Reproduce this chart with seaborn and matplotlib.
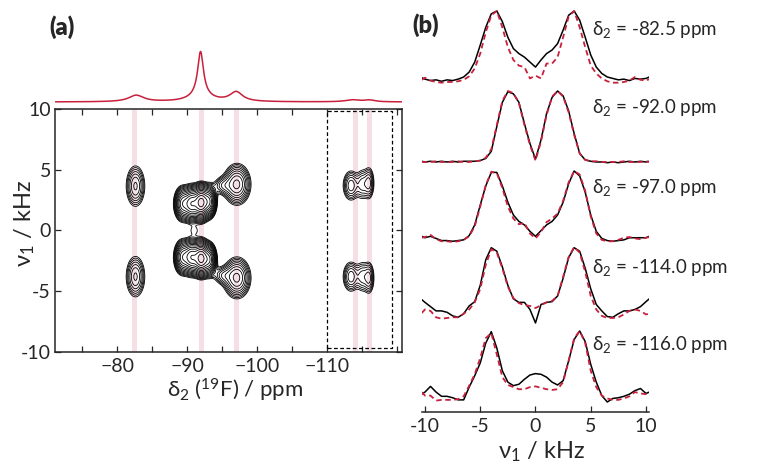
import numpy as np
import matplotlib
matplotlib.use("Agg")
import matplotlib.pyplot as plt
import seaborn as sns

# ================= Data ================= #
# top 1D 19F trace: line positions (ppm), heights, half widths (ppm)
trace_ppm = [-82.7, -91.9, -91.9, -97.0, -113.6, -116.0]
trace_height = [0.13, 0.88, 0.12, 0.19, 0.04, 0.035]
trace_hwhm = [1.3, 0.5, 1.8, 1.1, 1.2, 0.9]

# 2D map: cross peaks (delta2 ppm, nu1 kHz), widths and amplitudes
peak_ppm = [-82.6, -82.6,
            -89.3, -90.6, -92.0, -93.2, -89.3, -90.6, -92.0, -93.2, -91.0,
            -97.1, -97.1, -95.0, -95.0,
            -113.4, -115.0, -116.0, -113.4, -115.0, -116.0]
peak_khz = [3.65, -3.8,
            2.2, 2.2, 2.3, 2.4, -2.2, -2.2, -2.3, -2.4, 0.0,
            3.8, -3.9, 3.7, -3.7,
            3.7, 3.8, 3.9, -3.8, -3.8, -3.9]
peak_wppm = [0.8, 0.8,
             0.6, 0.6, 0.6, 0.5, 0.6, 0.6, 0.6, 0.5, 0.6,
             1.05, 1.05, 0.8, 0.8,
             0.7, 0.5, 0.45, 0.7, 0.5, 0.45]
peak_wkhz = [1.0, 1.0,
             0.7, 0.7, 0.7, 0.65, 0.7, 0.7, 0.7, 0.65, 0.3,
             0.9, 0.9, 0.45, 0.45,
             0.75, 0.8, 0.8, 0.75, 0.8, 0.8]
peak_amp = [1.0, 1.0,
            2.5, 4.0, 6.0, 3.0, 2.5, 4.0, 6.0, 3.0, 0.25,
            1.6, 1.6, 0.6, 0.6,
            0.9, 0.6, 0.8, 0.9, 0.6, 0.8]

# slices through the 2D map (b)
slice_ppm = [-82.5, -92.0, -97.0, -114.0, -116.0]
nu_khz = np.r_[-10.3, np.arange(-10, 10.01, 0.5), 10.3]
exp_slices = [
    [0.06, 0.04, 0.02, 0.03, 0.01, 0.03, 0.02, 0.04, 0.07, 0.14, 0.28, 0.52, 0.77, 0.96, 1.0,
     0.85, 0.63, 0.47, 0.40, 0.35, 0.28, 0.21, 0.31, 0.40, 0.45, 0.54, 0.73, 0.94, 1.0, 0.87,
     0.63, 0.38, 0.21, 0.12, 0.07, 0.05, 0.03, 0.04, 0.02, 0.05, 0.04, 0.05, 0.07],
    [0.01, 0.00, 0.01, 0.00, 0.01, 0.00, 0.01, 0.00, 0.01, 0.01, 0.01, 0.02, 0.05, 0.15, 0.50,
     0.84, 0.99, 0.96, 0.84, 0.54, 0.26, 0.04, 0.31, 0.68, 0.91, 1.0, 0.93, 0.72, 0.40, 0.12,
     0.03, 0.01, 0.00, 0.00, -0.01, 0.00, -0.01, 0.00, 0.01, 0.00, 0.01, 0.00, 0.01],
    [0.08, 0.06, 0.08, 0.05, 0.02, 0.02, 0.01, 0.02, 0.03, 0.09, 0.24, 0.52, 0.79, 0.98, 0.98,
     0.79, 0.56, 0.38, 0.29, 0.24, 0.15, 0.08, 0.16, 0.24, 0.29, 0.38, 0.56, 0.82, 1.0, 0.93,
     0.70, 0.38, 0.15, 0.05, 0.02, 0.01, 0.02, 0.03, 0.06, 0.06, 0.06, 0.06, 0.08],
    [0.26, 0.22, 0.16, 0.10, 0.10, 0.08, 0.03, 0.01, 0.06, 0.17, 0.23, 0.46, 0.82, 0.99, 0.94,
     0.72, 0.46, 0.27, 0.22, 0.22, 0.12, -0.07, 0.19, 0.22, 0.23, 0.31, 0.56, 0.85, 0.99, 0.94,
     0.70, 0.41, 0.19, 0.10, 0.02, 0.01, 0.06, 0.10, 0.10, 0.12, 0.16, 0.23, 0.27],
    [0.11, 0.14, 0.22, 0.14, 0.08, 0.08, 0.06, 0.03, 0.03, 0.21, 0.37, 0.55, 0.83, 0.99, 0.76,
     0.44, 0.28, 0.23, 0.25, 0.32, 0.38, 0.40, 0.39, 0.35, 0.28, 0.24, 0.30, 0.58, 0.88, 1.0,
     0.85, 0.53, 0.28, 0.09, 0.00, 0.05, 0.06, 0.08, 0.11, 0.16, 0.19, 0.12, 0.14],
]
sim_slices = [
    [0.03, 0.06, 0.02, 0.00, -0.01, 0.00, 0.00, 0.01, 0.03, 0.08, 0.19, 0.40, 0.70, 0.94, 1.0,
     0.77, 0.49, 0.31, 0.23, 0.21, 0.05, 0.09, 0.05, 0.26, 0.26, 0.35, 0.63, 0.92, 1.0, 0.77,
     0.49, 0.23, 0.12, 0.05, 0.01, -0.01, -0.01, 0.00, 0.02, 0.07, 0.03, 0.02, 0.04],
    [0.00, 0.00, 0.00, 0.01, 0.00, 0.00, 0.00, 0.01, 0.00, 0.00, 0.01, 0.02, 0.06, 0.18, 0.52,
     0.86, 1.0, 0.97, 0.83, 0.52, 0.24, 0.02, 0.29, 0.66, 0.92, 1.0, 0.92, 0.70, 0.38, 0.12,
     0.03, 0.01, 0.01, 0.00, 0.00, 0.00, 0.00, 0.01, 0.00, 0.00, 0.00, 0.01, 0.00],
    [0.06, 0.07, 0.10, 0.04, 0.01, 0.01, 0.00, 0.01, 0.03, 0.08, 0.22, 0.50, 0.80, 0.99, 0.97,
     0.76, 0.50, 0.33, 0.25, 0.27, 0.12, 0.05, 0.14, 0.28, 0.33, 0.40, 0.58, 0.84, 1.0, 0.95,
     0.72, 0.36, 0.12, 0.03, 0.01, 0.01, 0.03, 0.06, 0.07, 0.05, 0.04, 0.06, 0.07],
    [0.07, 0.12, 0.10, 0.01, -0.01, 0.00, 0.01, 0.01, 0.06, 0.12, 0.22, 0.41, 0.75, 0.97, 0.92,
     0.70, 0.44, 0.28, 0.21, 0.18, 0.17, 0.14, 0.18, 0.22, 0.24, 0.31, 0.58, 0.86, 1.0, 0.92,
     0.65, 0.31, 0.12, 0.03, 0.00, 0.00, 0.01, 0.05, 0.10, 0.12, 0.10, 0.05, 0.06],
    [0.14, 0.09, 0.09, 0.02, 0.03, 0.03, 0.03, 0.04, 0.08, 0.23, 0.39, 0.62, 0.90, 0.97, 0.67,
     0.35, 0.24, 0.21, 0.18, 0.18, 0.21, 0.22, 0.20, 0.18, 0.17, 0.18, 0.28, 0.58, 0.90, 1.0,
     0.83, 0.44, 0.21, 0.09, 0.05, 0.03, 0.03, 0.05, 0.08, 0.14, 0.12, 0.11, 0.10],
]

# dashed region (ppm, kHz)
box_ppm = [-110.0, -119.3]
box_khz = [-9.7, 9.8]

# ================= Style ================= #
sns.set_style("ticks")
plt.rcParams['font.family'] = ['Lato', 'DejaVu Sans']
plt.rcParams['mathtext.fontset'] = 'custom'
plt.rcParams['mathtext.rm'] = 'Lato'
plt.rcParams['mathtext.it'] = 'Lato:italic'
plt.rcParams['axes.unicode_minus'] = False
plt.rcParams['xtick.direction'] = 'in'
plt.rcParams['ytick.direction'] = 'in'

red = '#c8203c'
pink = '#f6dfe4'
fs_tick = 14
fs_lab = 16

fig = plt.figure(figsize=(7.58, 4.70), dpi=100)
ax2d = fig.add_axes([0.0726, 0.2511, 0.4578, 0.517])
axtop = fig.add_axes([0.0726, 0.7702, 0.4578, 0.1447])
axb = fig.add_axes([0.5563, 0.1234, 0.3003, 0.866])

xlim_ppm = (-71.1, -120.7)

# ================= (a) top trace ================= #
ppm_grid = np.linspace(xlim_ppm[0], xlim_ppm[1], 800)
trace = np.zeros_like(ppm_grid)
for p, h, w in zip(trace_ppm, trace_height, trace_hwhm):
    trace += h * w**2 / ((ppm_grid - p)**2 + w**2)
sns.lineplot(x=ppm_grid, y=trace, ax=axtop, color=red, lw=1.1, sort=False, estimator=None)
axtop.set_xlim(*xlim_ppm)
axtop.set_ylim(-0.12, 1.24)
axtop.axis('off')

# ================= (a) 2D contour map ================= #
khz_grid = np.linspace(-10, 10, 500)
X, Y = np.meshgrid(ppm_grid, khz_grid)
Z = np.zeros_like(X)
for p, k, wp, wk, a in zip(peak_ppm, peak_khz, peak_wppm, peak_wkhz, peak_amp):
    Z += a * np.exp(-0.5 * ((X - p) / wp)**2 - 0.5 * ((Y - k) / wk)**2)
levels = 0.25 * 1.25**np.arange(0, 22)
for p in slice_ppm:
    ax2d.axvspan(p - 0.35, p + 0.35, color=pink, lw=0, zorder=0)
ax2d.contour(X, Y, Z, levels=levels, colors='k', linewidths=0.6, zorder=2)
ax2d.plot([box_ppm[0], box_ppm[0], box_ppm[1], box_ppm[1], box_ppm[0]],
          [box_khz[0], box_khz[1], box_khz[1], box_khz[0], box_khz[0]],
          color='k', ls=(0, (3, 2)), lw=0.9, zorder=3)
ax2d.set_xlim(*xlim_ppm)
ax2d.set_ylim(-10, 10)
ax2d.set_xticks([-80, -90, -100, -110])
ax2d.set_xticklabels(['\u221280', '\u221290', '\u2212100', '\u2212110'], fontsize=fs_tick)
ax2d.set_xticks(np.arange(-75, -121, -5), minor=True)
ax2d.set_yticks([-10, -5, 0, 5, 10])
ax2d.set_yticklabels(['-10', '-5', '0', '5', '10'], fontsize=fs_tick)
ax2d.tick_params(which='both', top=True, right=True, length=4, width=0.9, pad=3)
ax2d.tick_params(axis='x', pad=4)
for s in ax2d.spines.values():
    s.set_linewidth(1.1)

fig.text(25 / 758, 1 - 223 / 470, 'ν$_1$ / kHz', rotation=90, ha='center', va='center',
         fontsize=fs_lab + 1)
fig.text(235 / 758, 1 - 390 / 470, 'δ$_2$ ($^{19}$F) / ppm', ha='center', va='center',
         fontsize=fs_lab)

# ================= (b) slices ================= #
slice_offset = [330, 250, 170, 94, 10]
slice_scale = 71
label_y = [382, 304, 224, 144, 67]
for k in range(len(slice_ppm)):
    off = slice_offset[k]
    sns.lineplot(x=nu_khz, y=np.array(exp_slices[k]) * slice_scale + off, ax=axb,
                 color='k', lw=1.1, sort=False, estimator=None, zorder=2)
    sns.lineplot(x=nu_khz, y=np.array(sim_slices[k]) * slice_scale + off, ax=axb,
                 color=red, lw=1.3, ls=(0, (3, 2)), sort=False, estimator=None, zorder=3)
    axb.text(5.1, label_y[k], 'δ$_2$ = %.1f ppm' % slice_ppm[k], va='center', ha='left',
             fontsize=13.5, clip_on=False)
axb.set_xlim(-10.3, 10.3)
axb.set_ylim(0, 407)
axb.set_xticks([-10, -5, 0, 5, 10])
axb.set_xticklabels(['-10', '-5', '0', '5', '10'], fontsize=fs_tick)
axb.set_yticks([])
axb.tick_params(axis='x', length=4, width=0.9, pad=4)
sns.despine(ax=axb, left=True)
axb.spines['bottom'].set_linewidth(1.1)
fig.text(542 / 758, 1 - 452 / 470, 'ν$_1$ / kHz', ha='center', va='center', fontsize=fs_lab + 1)

fig.text(49 / 758, 1 - 27 / 470, '(a)', fontsize=17, weight='heavy', va='center')
fig.text(412 / 758, 1 - 25 / 470, '(b)', fontsize=17, weight='heavy', va='center')

fig.savefig('out.png', dpi=100)
